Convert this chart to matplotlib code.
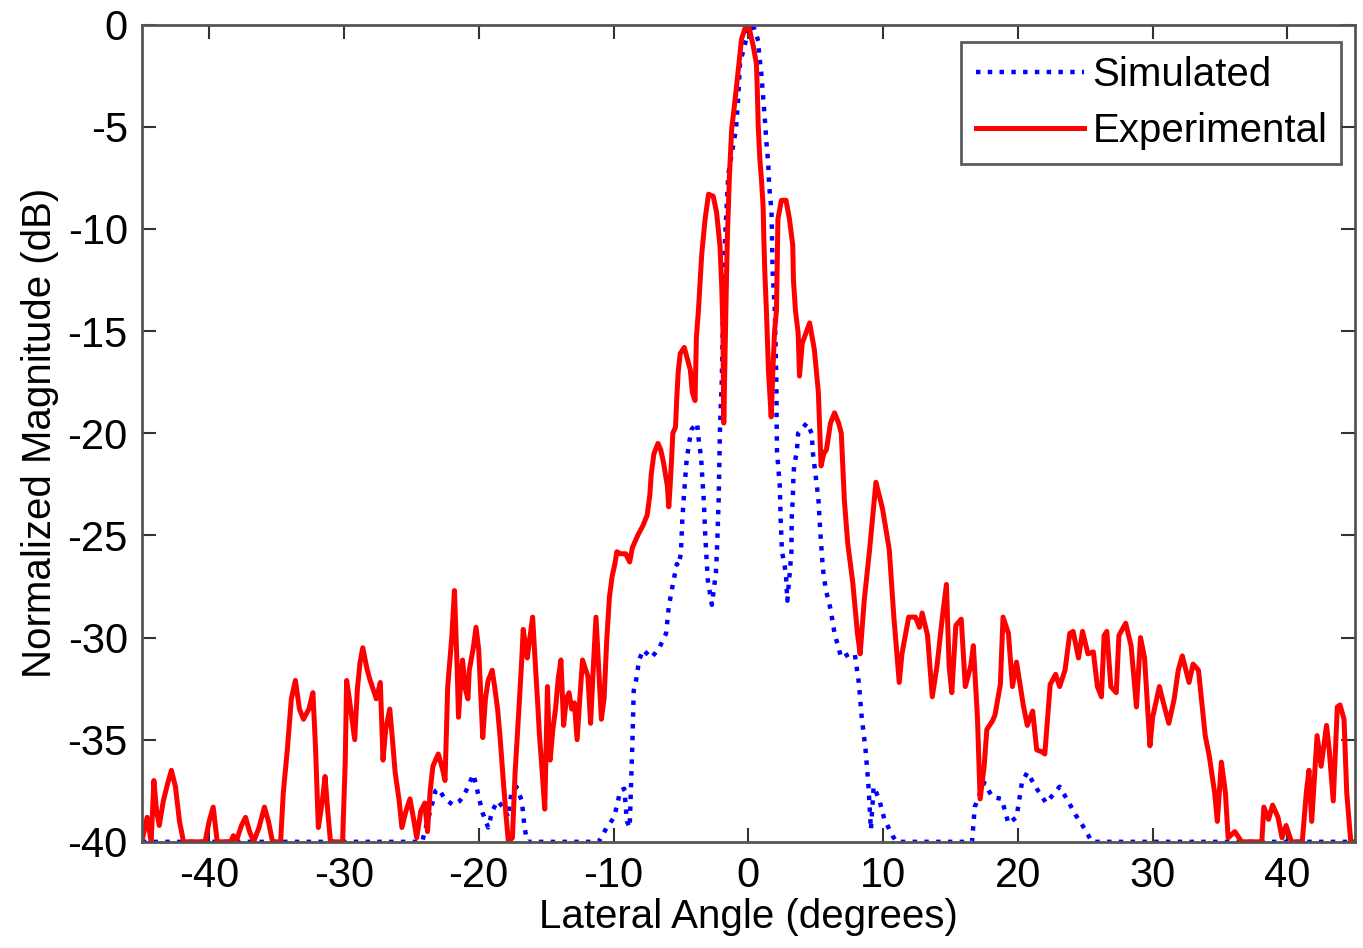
import numpy as np
from matplotlib import pyplot as plt

plt.rcParams['font.family'] = ['Liberation Sans', 'DejaVu Sans']
plt.rcParams['axes.unicode_minus'] = False

# Experimental beam profile
exp_angle = [-45.0, -44.6, -44.3, -44.1, -43.9, -43.7, -43.4, -43.1, -42.8, -42.5, -42.2, -41.9,
             -40.3, -40.0, -39.7, -39.4, -38.4, -38.2, -38.0, -37.6, -37.3, -37.0, -36.7, -36.3,
             -35.9, -35.6, -35.3, -34.7, -34.5, -34.2, -33.9, -33.6, -33.3, -33.0, -32.6, -32.3,
             -32.1, -31.9, -31.6, -31.4, -31.2, -31.0, -30.1, -29.9, -29.8, -29.6, -29.4, -29.2,
             -29.0, -28.8, -28.6, -28.3, -28.1, -27.9, -27.6, -27.3, -27.1, -26.9, -26.6, -26.4,
             -26.2, -25.9, -25.7, -25.4, -25.1, -24.8, -24.6, -24.3, -24.0, -23.8, -23.6, -23.4,
             -23.0, -22.7, -22.5, -22.3, -22.0, -21.8, -21.6, -21.5, -21.3, -21.2, -21.0, -20.8,
             -20.7, -20.4, -20.2, -20.0, -19.8, -19.7, -19.5, -19.3, -19.0, -18.8, -18.6, -18.4,
             -18.2, -18.0, -17.8, -17.5, -17.3, -17.0, -16.8, -16.7, -16.5, -16.4, -16.2, -16.0,
             -15.8, -15.6, -15.5, -15.3, -15.1, -14.9, -14.8, -14.7, -14.5, -14.3, -14.1, -13.9,
             -13.7, -13.5, -13.3, -13.1, -12.9, -12.7, -12.5, -12.3, -12.1, -11.9, -11.7, -11.5,
             -11.3, -11.1, -10.9, -10.7, -10.5, -10.3, -10.1, -9.9, -9.75, -9.5, -9.1, -8.8,
             -8.6, -8.2, -7.8, -7.5, -7.3, -7.2, -7.0, -6.7, -6.5, -6.3, -6.0, -5.9,
             -5.8, -5.7, -5.6, -5.4, -5.3, -5.2, -5.05, -4.75, -4.5, -4.3, -4.15, -3.95,
             -3.85, -3.7, -3.45, -3.2, -2.95, -2.6, -2.35, -2.1, -1.97, -1.88, -1.82, -1.72,
             -1.62, -1.55, -1.4, -1.23, -1.0, -0.74, -0.5, -0.15, 0.1, 0.37, 0.6, 0.66,
             0.74, 0.86, 0.98, 1.1, 1.15, 1.22, 1.35, 1.5, 1.7, 1.82, 1.95, 2.09,
             2.2, 2.46, 2.8, 3.05, 3.3, 3.35, 3.5, 3.7, 3.8, 4.0, 4.55, 4.9,
             5.2, 5.4, 5.6, 5.8, 6.1, 6.4, 6.7, 6.9, 7.13, 7.38, 7.75, 8.1,
             8.3, 8.6, 9.0, 9.47, 9.96, 10.46, 10.8, 11.2, 11.4, 11.9, 12.4, 12.7,
             12.9, 13.3, 13.65, 14.0, 14.4, 14.7, 14.9, 15.1, 15.4, 15.8, 16.1, 16.5,
             16.7, 17.0, 17.2, 17.5, 17.7, 18.1, 18.3, 18.7, 18.9, 19.3, 19.6, 19.9,
             20.4, 20.7, 21.1, 21.4, 21.8, 22.0, 22.4, 22.8, 23.1, 23.5, 23.85, 24.1,
             24.5, 24.8, 25.2, 25.6, 25.9, 26.2, 26.4, 26.6, 26.9, 27.3, 27.5, 28.0,
             28.4, 28.8, 29.1, 29.4, 29.8, 30.0, 30.5, 30.8, 31.2, 31.6, 31.9, 32.2,
             32.7, 33.0, 33.4, 33.7, 33.9, 34.2, 34.6, 34.8, 35.1, 35.4, 35.6, 36.1,
             36.6, 38.1, 38.25, 38.6, 38.9, 39.3, 39.6, 39.9, 40.3, 41.1, 41.4, 41.6,
             41.8, 42.2, 42.5, 42.9, 43.1, 43.4, 43.7, 43.9, 44.2, 44.4, 44.7, 45.0]
exp_db = [-40.0, -38.8, -40.0, -37.0, -38.5, -39.2, -38.0, -37.2, -36.5, -37.3, -39.0, -40.0,
          -40.0, -39.0, -38.3, -40.0, -40.0, -39.7, -40.0, -39.2, -38.8, -39.5, -40.0, -39.3,
          -38.3, -39.0, -40.0, -40.0, -37.6, -35.5, -33.0, -32.1, -33.5, -34.0, -33.5, -32.7,
          -35.5, -39.3, -38.0, -36.8, -38.5, -40.0, -40.0, -36.0, -32.1, -33.0, -34.0, -35.0,
          -32.5, -31.2, -30.5, -31.5, -32.0, -32.4, -33.0, -32.2, -36.0, -34.5, -33.5, -35.0,
          -36.6, -38.0, -39.3, -38.5, -37.9, -39.0, -39.8, -38.5, -38.1, -39.5, -37.5, -36.3,
          -35.7, -36.4, -37.0, -32.4, -30.0, -27.7, -31.5, -33.9, -31.8, -31.1, -32.5, -33.0,
          -31.6, -30.5, -29.5, -30.6, -33.5, -34.9, -33.0, -32.1, -31.6, -32.5, -33.5, -35.0,
          -36.8, -38.5, -40.0, -39.8, -36.6, -33.3, -31.0, -29.6, -30.5, -31.0, -30.0, -29.0,
          -31.3, -33.5, -34.7, -36.5, -38.4, -32.4, -34.5, -36.0, -34.5, -33.5, -32.0, -31.1,
          -34.3, -33.0, -32.7, -33.5, -33.2, -35.0, -33.0, -31.1, -31.5, -31.9, -34.2, -31.5,
          -29.0, -31.5, -34.0, -33.0, -30.1, -28.0, -27.0, -26.4, -25.8, -25.9, -25.9, -26.3,
          -25.6, -25.0, -24.5, -24.0, -23.0, -22.0, -21.0, -20.5, -20.8, -21.4, -22.6, -23.6,
          -22.6, -21.4, -20.0, -19.7, -18.2, -17.0, -16.1, -15.8, -16.4, -16.9, -18.0, -18.4,
          -15.3, -14.0, -11.2, -9.5, -8.3, -8.4, -9.2, -10.85, -12.8, -15.0, -19.5, -16.0,
          -12.5, -10.4, -7.4, -5.1, -3.8, -2.2, -0.7, 0.0, -0.25, -1.06, -1.9, -3.0,
          -5.0, -6.6, -7.6, -8.9, -10.4, -12.0, -14.1, -17.0, -19.2, -17.0, -15.0, -14.0,
          -9.5, -8.6, -8.6, -9.5, -10.8, -12.5, -14.0, -15.1, -17.2, -15.6, -14.6, -15.9,
          -18.0, -21.6, -21.0, -20.8, -19.5, -19.0, -19.5, -20.0, -23.3, -25.4, -27.3, -29.8,
          -30.8, -28.2, -25.7, -22.4, -23.7, -25.7, -29.0, -32.2, -30.8, -29.0, -29.0, -29.5,
          -28.8, -29.9, -32.9, -31.4, -29.0, -27.4, -31.4, -32.7, -29.4, -29.1, -32.4, -31.4,
          -30.4, -33.9, -37.9, -36.3, -34.5, -34.1, -33.8, -32.3, -29.0, -29.8, -32.4, -31.2,
          -33.3, -34.3, -33.6, -35.5, -35.6, -35.7, -32.3, -31.8, -32.4, -31.6, -29.8, -29.7,
          -31.0, -29.7, -30.8, -30.7, -32.4, -32.9, -29.9, -29.7, -32.4, -32.7, -29.9, -29.3,
          -30.4, -33.4, -30.0, -31.0, -35.3, -33.9, -32.4, -33.2, -34.2, -33.0, -31.6, -30.9,
          -32.2, -31.3, -31.6, -33.5, -34.8, -35.8, -37.6, -39.0, -36.1, -37.6, -39.8, -39.5,
          -40.0, -40.0, -38.3, -38.9, -38.2, -38.8, -39.8, -39.2, -40.0, -40.0, -37.6, -36.5,
          -39.0, -34.8, -36.3, -34.3, -35.5, -38.0, -33.4, -33.3, -34.0, -37.6, -40.0, -40.0]

# Simulated beam profile
sim_angle = [-45.0, -24.2, -23.6, -23.2, -23.0, -22.5, -21.9, -21.4, -21.0, -20.4, -20.2, -20.0,
             -19.7, -19.3, -19.0, -18.6, -18.2, -17.8, -17.6, -17.2, -16.8, -16.6, -16.4, -11.1,
             -10.5, -9.96, -9.7, -9.5, -9.2, -9.0, -8.8, -8.6, -8.5, -8.3, -8.1, -7.8,
             -7.2, -6.6, -6.1, -5.9, -5.6, -5.3, -5.2, -5.0, -4.9, -4.8, -4.7, -4.6,
             -4.5, -4.4, -4.2, -3.8, -3.7, -3.6, -3.5, -3.4, -3.3, -3.2, -3.1, -3.0,
             -2.7, -2.4, -2.3, -2.2, -2.1, -1.97, -1.85, -1.8, -1.65, -1.48, -0.91, -0.74,
             -0.61, -0.37, 0.1, 0.45, 0.74, 0.8, 0.98, 1.1, 1.23, 1.35, 1.48, 1.55,
             1.72, 1.76, 1.8, 1.97, 2.09, 2.1, 2.13, 2.34, 2.4, 2.5, 2.7, 2.8,
             2.9, 3.08, 3.2, 3.22, 3.3, 3.35, 3.4, 3.6, 3.7, 4.35, 4.7, 4.8,
             5.0, 5.2, 5.35, 5.5, 5.6, 5.8, 6.1, 6.4, 6.9, 7.5, 7.9, 8.2,
             8.4, 8.7, 8.9, 9.1, 9.3, 9.7, 10.1, 10.7, 11.0, 16.6, 16.8, 17.5,
             18.1, 18.8, 19.3, 19.9, 20.3, 20.7, 21.4, 22.1, 23.1, 23.8, 24.3, 24.8,
             25.5, 45.0]
sim_db = [-40.0, -40.0, -38.5, -37.5, -37.4, -37.9, -38.2, -38.0, -37.6, -36.7, -37.2, -37.8,
          -38.6, -39.3, -38.5, -38.0, -38.3, -38.8, -37.7, -37.3, -38.0, -39.3, -40.0, -40.0,
          -39.3, -38.8, -38.1, -37.5, -37.4, -39.0, -39.3, -35.2, -32.6, -32.0, -31.1, -30.6,
          -31.0, -30.5, -29.8, -28.5, -27.4, -26.4, -26.5, -25.9, -24.3, -23.3, -22.4, -21.5,
          -21.0, -20.5, -19.8, -19.5, -20.2, -20.7, -21.2, -22.3, -23.3, -24.9, -26.1, -27.2,
          -28.4, -26.8, -25.3, -23.3, -19.8, -17.5, -13.3, -11.7, -9.5, -7.3, -5.1, -3.5,
          -1.8, -1.3, 0.0, -0.2, -0.8, -1.4, -2.5, -3.5, -4.65, -5.8, -6.8, -7.9,
          -9.1, -10.4, -12.0, -14.0, -17.7, -19.3, -20.9, -22.6, -24.2, -25.8, -26.5, -27.0,
          -28.2, -26.8, -25.8, -24.2, -23.2, -22.1, -21.6, -20.9, -20.0, -19.5, -20.0, -21.0,
          -22.1, -23.2, -24.9, -26.3, -27.0, -27.8, -28.6, -29.8, -31.0, -30.8, -30.8, -32.2,
          -33.8, -35.5, -37.1, -39.4, -37.3, -37.9, -38.9, -39.7, -40.0, -40.0, -38.3, -37.1,
          -37.8, -37.9, -39.1, -38.8, -37.1, -36.6, -37.4, -38.1, -37.3, -38.1, -38.7, -39.2,
          -40.0, -40.0]

x_ticks = [-40, -30, -20, -10, 0, 10, 20, 30, 40]
y_ticks = [-40, -35, -30, -25, -20, -15, -10, -5, 0]

fig = plt.figure(figsize=(13.63, 9.48), dpi=100)
ax = fig.add_axes([0.104, 0.112, 0.89, 0.862])

ax.plot(sim_angle, sim_db, color='#0000ff', linestyle=':', linewidth=3.2, label='Simulated')
ax.plot(exp_angle, exp_db, color='#ff0000', linestyle='-', linewidth=3.6, label='Experimental')

ax.set_xlim(-45, 45)
ax.set_ylim(-40, 0)
ax.set_xticks(x_ticks)
ax.set_yticks(y_ticks)
ax.tick_params(direction='in', length=10, width=1.5, top=True, right=True,
               labelsize=30, pad=10, color='#333333')
for s in ax.spines.values():
    s.set_color('#555555')
    s.set_linewidth(2)

ax.set_xlabel('Lateral Angle (degrees)', fontsize=29, labelpad=2)
ax.set_ylabel('Normalized Magnitude (dB)', fontsize=29, labelpad=6)

leg = ax.legend(loc='upper right', fontsize=29, fancybox=False, handlelength=2.7,
                handletextpad=0.2, borderpad=0.35, labelspacing=0.45,
                borderaxespad=0, bbox_to_anchor=(0.989, 0.979))
leg.get_frame().set_edgecolor('#333333')
leg.get_frame().set_linewidth(2)

plt.savefig('out.png', dpi=100)
